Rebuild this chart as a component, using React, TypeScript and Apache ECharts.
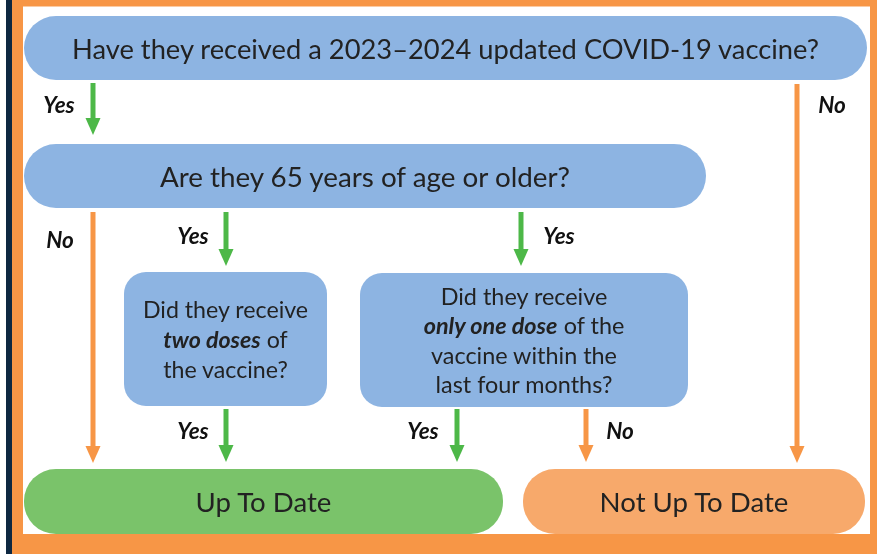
import React, { useEffect, useRef } from "react";
import * as echarts from "echarts";

// ---- data (texts) ----
const questions = [
  "Have they received a 2023–2024 updated COVID-19 vaccine?",
  "Are they 65 years of age or older?",
  "Did they receive\n{b|two doses} of\nthe vaccine?",
  "Did they receive\n{b|only one dose} of the\nvaccine within the\nlast four months?",
];
const outcomes = ["Up To Date", "Not Up To Date"];
const answers = ["Yes", "No"];

// ---- layout ----
const boxLayout = [
  { x: 24, y: 16, w: 843, h: 64, r: 32, fs: 27.3, lh: 30 },
  { x: 24, y: 144, w: 682, h: 64, r: 32, fs: 27.8, lh: 30 },
  { x: 124, y: 272, w: 203, h: 134, r: 22, fs: 23.2, lh: 30 },
  { x: 360, y: 273, w: 328, h: 134, r: 22, fs: 23.4, lh: 29.5 },
];
const outcomeLayout = [
  { x: 24, y: 469, w: 479, h: 65, r: 32, color: "#7AC36A" },
  { x: 523, y: 469, w: 342, h: 65, r: 32, color: "#F7A96B" },
];
// arrows: x, y1, y2, answer index, label x (center), label y
const arrowLayout = [
  { x: 93, y1: 83, y2: 135, a: 0, lx: 59, ly: 104 },
  { x: 797, y1: 84, y2: 463, a: 1, lx: 832, ly: 104 },
  { x: 93, y1: 212, y2: 463, a: 1, lx: 60, ly: 239 },
  { x: 226, y1: 212, y2: 266, a: 0, lx: 193, ly: 235 },
  { x: 521, y1: 212, y2: 266, a: 0, lx: 559, ly: 235 },
  { x: 226, y1: 409, y2: 462, a: 0, lx: 193, ly: 430 },
  { x: 457, y1: 409, y2: 462, a: 0, lx: 423, ly: 430 },
  { x: 586, y1: 409, y2: 462, a: 1, lx: 620, ly: 430 },
];

const FONT = "Lato, 'Open Sans', sans-serif";
const TEXT = "#222222";
const BLUE = "#8DB4E2";
const GREEN = "#4DB848";
const ORANGE = "#F79646";

export default function App() {
  const ref = useRef<HTMLDivElement>(null);
  useEffect(() => {
    if (!ref.current) return;
    const chart = echarts.init(ref.current, null, { renderer: "svg" });
    const els: any[] = [];
    // frame
    els.push({ type: "rect", shape: { x: 0, y: 0, width: 877, height: 554 }, style: { fill: "#ffffff" } });
    els.push({ type: "rect", shape: { x: 6, y: 0, width: 6, height: 554 }, style: { fill: "#0E2841" } });
    els.push({ type: "rect", shape: { x: 12, y: 0, width: 865, height: 554 }, style: { fill: ORANGE } });
    els.push({ type: "rect", shape: { x: 23, y: 6.5, width: 847, height: 527.5 }, style: { fill: "#ffffff" } });

    // boxes
    questions.forEach((q, i) => {
      const b = boxLayout[i];
      els.push({
        type: "rect",
        shape: { x: b.x, y: b.y, width: b.w, height: b.h, r: b.r },
        style: { fill: BLUE },
      });
      els.push({
        type: "text",
        x: b.x + b.w / 2,
        y: b.y + b.h / 2,
        style: {
          text: q,
          align: "center",
          verticalAlign: "middle",
          fill: TEXT,
          fontFamily: FONT,
          fontSize: b.fs,
          lineHeight: b.lh,
          rich: {
            b: { fontStyle: "italic", fontWeight: "bold", fontSize: b.fs, fontFamily: FONT, fill: TEXT, lineHeight: b.lh },
          },
        },
      });
    });
    outcomes.forEach((o, i) => {
      const b = outcomeLayout[i];
      els.push({
        type: "rect",
        shape: { x: b.x, y: b.y, width: b.w, height: b.h, r: b.r },
        style: { fill: b.color },
      });
      els.push({
        type: "text",
        x: b.x + b.w / 2,
        y: b.y + b.h / 2,
        style: {
          text: o,
          align: "center",
          verticalAlign: "middle",
          fill: TEXT,
          fontFamily: FONT,
          fontSize: 27.6,
        },
      });
    });
    arrowLayout.forEach((a) => {
      const color = a.a === 0 ? GREEN : ORANGE;
      const hh = 17;
      els.push({
        type: "line",
        shape: { x1: a.x, y1: a.y1, x2: a.x, y2: a.y2 - hh + 1 },
        style: { stroke: color, lineWidth: 5 },
      });
      els.push({
        type: "polygon",
        shape: { points: [[a.x - 7.5, a.y2 - hh], [a.x + 7.5, a.y2 - hh], [a.x, a.y2]] },
        style: { fill: color },
      });
      els.push({
        type: "text",
        x: a.lx,
        y: a.ly,
        style: {
          text: answers[a.a],
          align: "center",
          verticalAlign: "middle",
          fill: "#111111",
          fontFamily: FONT,
          fontSize: 22.5,
          fontWeight: "bold",
          fontStyle: "italic",
        },
      });
    });

    chart.setOption({ animation: false, graphic: { elements: els } });
    return () => chart.dispose();
  }, []);
  return (
    <div
      ref={ref}
      style={{ position: "fixed", left: 0, top: 0, width: 877, height: 554 }}
    />
  );
}
